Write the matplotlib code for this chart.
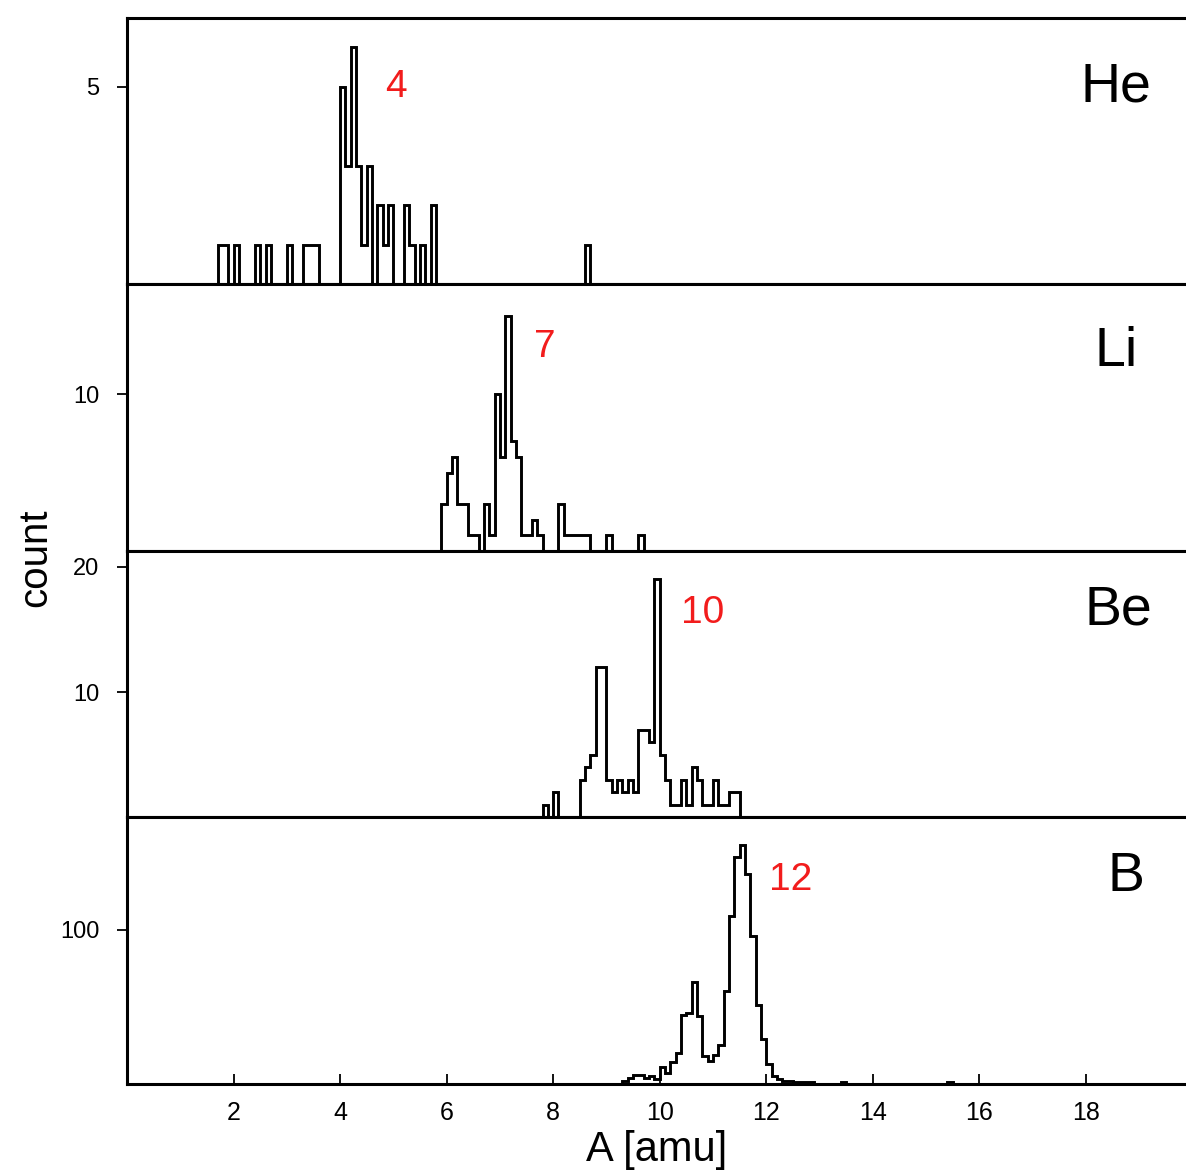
import numpy as np
import matplotlib
matplotlib.use('Agg')
import matplotlib.pyplot as plt

plt.rcParams['font.family'] = ['Liberation Sans', 'DejaVu Sans']

BIN = 0.1  # amu per bin

# lower edge of every non-empty bin [amu] and its count
he_A = [1.7, 1.8, 2.0, 2.4, 2.6, 3.0, 3.3, 3.4, 3.5, 4.0, 4.1, 4.2, 4.3, 4.4, 4.5,
        4.7, 4.8, 4.9, 5.2, 5.3, 5.5, 5.7, 8.6]
he_n = [1, 1, 1, 1, 1, 1, 1, 1, 1, 5, 3, 6, 3, 1, 3,
        2, 1, 2, 2, 1, 1, 2, 1]

li_A = [5.9, 6.0, 6.1, 6.2, 6.3, 6.4, 6.5, 6.7, 6.8, 6.9, 7.0, 7.1, 7.2, 7.3, 7.4,
        7.5, 7.6, 7.7, 8.1, 8.2, 8.3, 8.4, 8.5, 8.6, 9.0, 9.6]
li_n = [3, 5, 6, 3, 3, 1, 1, 3, 1, 10, 6, 15, 7, 6, 1,
        1, 2, 1, 3, 1, 1, 1, 1, 1, 1, 1]

be_A = [7.8, 8.0, 8.5, 8.6, 8.7, 8.8, 8.9, 9.0, 9.1, 9.2, 9.3, 9.4, 9.5, 9.6, 9.7,
        9.8, 9.9, 10.0, 10.1, 10.2, 10.3, 10.4, 10.5, 10.6, 10.7, 10.8, 10.9, 11.0,
        11.1, 11.2, 11.3, 11.4]
be_n = [1, 2, 3, 4, 5, 12, 12, 3, 2, 3, 2, 3, 2, 7, 7,
        6, 19, 5, 3, 1, 1, 3, 1, 4, 3, 1, 1, 3,
        1, 1, 2, 2]

b_A = [9.3, 9.4, 9.5, 9.6, 9.7, 9.8, 9.9, 10.0, 10.1, 10.2, 10.3, 10.4, 10.5, 10.6,
       10.7, 10.8, 10.9, 11.0, 11.1, 11.2, 11.3, 11.4, 11.5, 11.6, 11.7, 11.8, 11.9,
       12.0, 12.1, 12.2, 12.3, 12.4, 12.5, 12.6, 12.7, 12.8, 13.4, 15.4]
b_n = [2, 4, 6, 6, 4, 5, 3, 11, 7, 14, 20, 45, 46, 66,
       44, 18, 15, 19, 25, 60, 109, 147, 155, 136, 96, 51, 29,
       13, 5, 3, 2, 2, 1, 1, 1, 1, 1, 1]

names = ['He', 'Li', 'Be', 'B']
peaks = ['4', '7', '10', '12']
peak_pos = [(5.05, 5.0), (7.85, 13.0), (10.8, 16.3), (12.45, 132)]
ymax = [6.74, 17.0, 21.27, 172.7]
yticks = [[5], [10], [10, 20], [100]]
data = [(he_A, he_n), (li_A, li_n), (be_A, be_n), (b_A, b_n)]


def to_hist(A, n):
    A = np.array(A)
    lo = A.min()
    nb = int(round((A.max() - lo) / BIN)) + 1
    counts = np.zeros(nb)
    counts[np.round((A - lo) / BIN).astype(int)] = n
    edges = lo + BIN * np.arange(nb + 1)
    return counts, edges


fig = plt.figure(figsize=(11.86, 11.74), dpi=100)
axes = fig.subplots(4, 1, sharex=True)
fig.subplots_adjust(left=0.1071, right=1.0, bottom=0.0767, top=0.9847, hspace=0)

name_xy = [(0.934, 0.74), (0.934, 0.747), (0.936, 0.776), (0.943, 0.778)]

for i, ax in enumerate(axes):
    counts, edges = to_hist(*data[i])
    ax.stairs(counts, edges, baseline=0, color='black', lw=2.1)
    ax.set_xlim(0, 19.88)
    ax.set_ylim(0, ymax[i])
    ax.set_yticks(yticks[i])
    ax.tick_params(axis='y', direction='out', length=7, width=1.3, pad=13,
                   labelsize=17)
    ax.tick_params(axis='x', direction='in', length=7, width=1.3, pad=12,
                   labelsize=18, bottom=(i == 3))
    for s in ['top', 'bottom', 'left']:
        ax.spines[s].set_linewidth(2.2)
    ax.spines['right'].set_visible(False)
    ax.text(name_xy[i][0], name_xy[i][1], names[i], transform=ax.transAxes,
            ha='center', va='center', fontsize=40)
    ax.text(peak_pos[i][0], peak_pos[i][1], peaks[i], color='#f21c1c',
            ha='center', va='center', fontsize=28)

axes[-1].set_xticks(range(2, 19, 2))
axes[-1].set_xlabel('A [amu]', fontsize=30, labelpad=4)
fig.text(0.03, 0.525, 'count', rotation=90, ha='center', va='center', fontsize=29)

fig.savefig('out.png', dpi=100)
